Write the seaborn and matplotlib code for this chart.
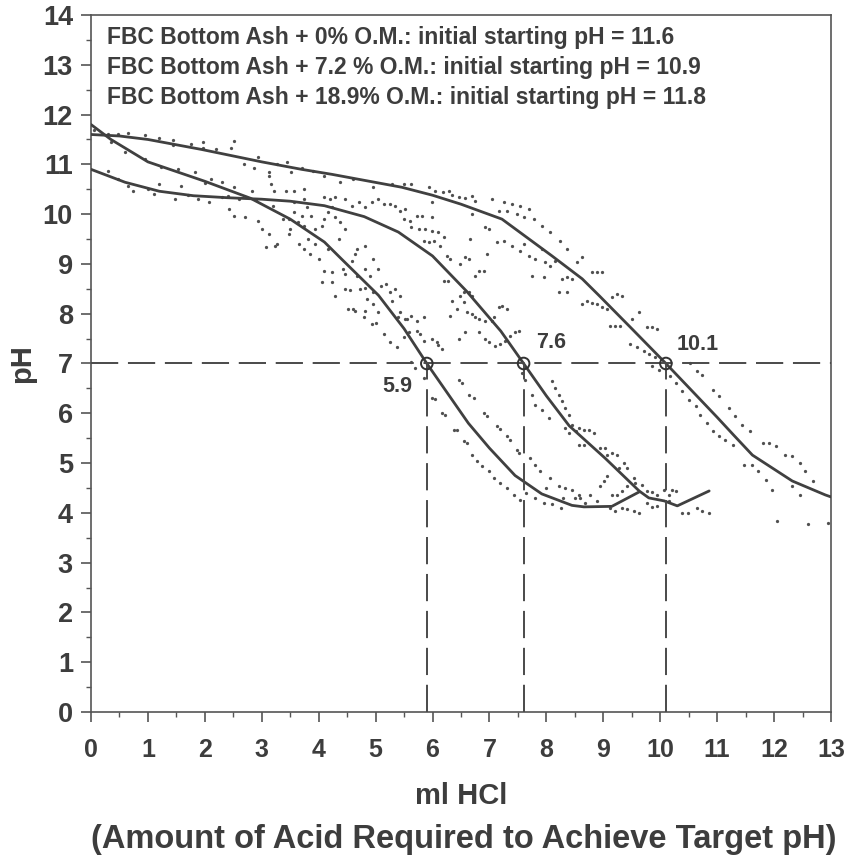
import matplotlib
matplotlib.use("Agg")
import matplotlib.pyplot as plt
from matplotlib.ticker import MultipleLocator
import numpy as np
import pandas as pd
import seaborn as sns

# ---- fitted titration curves (ml HCl, pH) ----
om0_x = [0, 0.5, 1.0, 1.94, 3.0, 3.7, 4.23, 5.46, 6.0, 6.5, 7.22, 8.1, 8.63, 8.93,
         9.5, 10.1, 10.5, 10.8, 11.0, 11.3, 11.62, 12.32, 12.9, 13.0]
om0_y = [11.6, 11.57, 11.5, 11.3, 11.05, 10.9, 10.8, 10.54, 10.38, 10.2, 9.9, 9.16, 8.7, 8.36,
         7.7, 7.0, 6.52, 6.16, 5.92, 5.55, 5.16, 4.64, 4.36, 4.32]

om72_x = [0, 0.6, 1.2, 1.8, 2.4, 3.0, 3.5, 4.1, 4.8, 5.4, 6.0, 6.6, 7.2, 7.6,
          8.0, 8.4, 9.03, 9.63, 9.8, 10.07, 10.3, 10.86]
om72_y = [10.9, 10.64, 10.46, 10.37, 10.33, 10.3, 10.26, 10.17, 9.95, 9.64, 9.16, 8.45, 7.65, 7.0,
          6.35, 5.75, 5.1, 4.44, 4.3, 4.24, 4.14, 4.44]

om189_x = [0, 0.35, 1.0, 2.0, 2.8, 3.5, 4.1, 4.4, 5.05, 5.5, 5.9, 6.63, 7.0, 7.45,
           7.92, 8.45, 8.66, 9.15, 9.63]
om189_y = [11.8, 11.5, 11.05, 10.66, 10.32, 9.9, 9.44, 9.1, 8.37, 7.7, 7.0, 5.8, 5.3, 4.75,
           4.38, 4.15, 4.12, 4.13, 4.42]

# ---- individual measurements ----
pts0_x = [0.29, 0.47, 0.65, 0.94, 1.2, 1.44, 1.44, 1.75, 1.97, 1.97, 2.2, 2.46, 2.52, 2.68, 2.87,
          2.93, 3.12, 3.26, 3.45, 3.52, 3.7, 3.9, 4.1, 4.37, 4.6, 4.96, 5.28, 5.49, 5.63, 5.93,
          6.04, 6.18, 6.29, 6.35, 6.46, 6.57, 6.69, 6.74, 7.04, 7.17, 7.25, 7.3, 7.39, 7.48, 7.54,
          7.6, 7.69, 7.78, 7.92, 8.07, 8.24, 8.36, 8.54, 8.63, 8.8, 8.89, 8.98, 9.15, 9.24, 9.33,
          9.51, 9.63, 9.77, 9.86, 9.95,
          5.99, 6.69, 6.92, 7.0, 7.13, 7.25, 7.39, 7.54, 7.6, 7.69, 7.8, 7.92, 7.98, 8.07, 8.15,
          8.27, 8.36, 8.45, 7.75, 7.96, 8.22, 8.36, 8.63, 8.71, 8.8, 8.89, 8.98, 9.07, 9.12, 9.21,
          9.3, 9.47, 9.6, 9.72, 9.8, 9.9,
          9.86, 9.98, 10.18, 10.27, 10.39, 10.51, 10.62, 10.7, 10.83, 10.92, 11.04, 11.14, 11.27,
          10.53, 10.65, 10.74, 10.92, 11.04, 11.21, 11.32, 11.44, 11.57, 11.8, 11.92, 12.03, 12.2,
          12.32, 12.45, 12.55, 12.68,
          11.48, 11.62, 11.71, 11.85, 11.96, 12.32, 12.46, 12.06, 12.59, 12.94]
pts0_y = [11.6, 11.6, 11.62, 11.58, 11.52, 11.48, 11.38, 11.4, 11.44, 11.32, 11.3, 11.32, 11.46, 11.0, 10.92,
          11.14, 10.84, 11.0, 11.05, 10.84, 10.92, 10.86, 10.76, 10.64, 10.7, 10.54, 10.6, 10.6, 10.6, 10.54,
          10.46, 10.44, 10.46, 10.38, 10.34, 10.32, 10.36, 10.26, 10.3, 10.06, 10.24, 10.06, 10.2, 10.0, 10.16,
          9.94, 10.1, 9.9, 9.76, 9.64, 9.46, 9.3, 9.04, 9.14, 8.84, 8.84, 8.84, 8.34, 8.4, 8.36,
          7.9, 8.04, 7.74, 7.74, 7.7,
          10.24, 10.0, 9.74, 9.7, 9.44, 9.46, 9.36, 9.26, 9.4, 9.16, 9.1, 9.3, 9.04, 8.96, 9.06,
          8.7, 8.74, 8.7, 8.76, 8.74, 8.44, 8.44, 8.2, 8.26, 8.22, 8.2, 8.14, 8.1, 7.76, 7.76,
          7.76, 7.4, 7.34, 7.26, 7.2, 7.14,
          6.94, 6.86, 6.74, 6.6, 6.44, 6.26, 6.14, 5.96, 5.8, 5.64, 5.54, 5.46, 5.36,
          7.0, 6.84, 6.76, 6.46, 6.34, 6.1, 5.94, 5.76, 5.64, 5.4, 5.4, 5.34, 5.16,
          5.14, 5.0, 4.84, 4.64,
          4.96, 4.96, 4.84, 4.66, 4.46, 4.54, 4.36, 3.84, 3.78, 3.8]

pts72_x = [0.29, 0.47, 0.65, 0.73, 1.0, 1.11, 1.2, 1.47, 1.58, 1.7, 1.88, 2.08, 2.3, 2.6, 2.9,
           2.41, 2.73, 2.82, 3.22, 3.43, 3.57, 3.75, 3.57, 3.75, 3.79, 4.1, 4.2, 4.28, 4.46, 4.58,
           4.7, 4.81, 4.93, 5.05, 5.14, 5.25, 5.34, 5.42, 5.51, 5.49, 5.6, 5.72, 5.81, 5.99, 5.63,
           5.76, 5.86, 5.99, 6.1, 5.85, 5.93, 6.03, 6.13, 6.21, 6.25, 6.3, 6.57, 6.64, 6.48, 6.65,
           6.81, 6.9, 6.74, 6.95, 6.21, 6.27, 6.48, 6.55, 6.64, 6.69, 6.3, 6.43, 6.55, 6.69, 6.81,
           6.92, 7.04, 7.17, 7.22, 7.3,
           6.34, 6.6, 6.74, 7.08, 6.46, 6.57, 6.81, 6.92, 6.99, 7.1, 7.18, 7.27, 7.36, 7.45, 7.52,
           7.57, 7.62, 7.75, 7.8, 7.92, 8.05, 8.1, 8.15, 8.22, 8.27, 8.33, 8.4, 8.45, 8.52, 8.33,
           8.4, 8.57, 8.66, 8.75, 8.84, 8.57, 8.66, 8.94, 9.03, 9.07, 9.15, 9.24, 9.27, 9.37, 9.42,
           9.54, 9.56, 9.68, 9.77, 9.86, 9.95, 10.07, 10.16, 10.21, 10.27, 10.16, 9.95, 9.86, 9.77,
           10.39, 10.48, 10.65, 10.74, 10.86]
pts72_y = [10.86, 10.7, 10.56, 10.46, 10.5, 10.4, 10.6, 10.3, 10.56, 10.38, 10.3, 10.24, 10.35, 10.3, 10.28,
           10.36, 10.34, 10.46, 10.46, 10.46, 10.46, 10.5, 10.24, 10.3, 10.14, 10.34, 10.3, 10.34, 10.3, 10.16,
           10.24, 10.14, 10.24, 10.3, 10.2, 10.2, 10.16, 10.06, 10.1, 9.9, 9.86, 9.96, 9.96, 9.94, 9.74,
           9.7, 9.7, 9.66, 9.64, 9.46, 9.44, 9.46, 9.36, 9.54, 9.16, 9.1, 9.14, 9.1, 9.0, 9.5,
           8.86, 8.86, 8.76, 9.2, 8.66, 8.66, 8.36, 8.44, 8.44, 8.36, 7.96, 8.1, 8.24, 8.0, 7.9,
           7.86, 7.86, 8.14, 8.16, 8.1,
           8.26, 8.04, 7.94, 7.94, 7.5, 7.64, 7.64, 7.5, 7.44, 7.36, 7.4, 7.46, 7.56, 7.64, 7.66,
           6.8, 6.66, 6.36, 6.16, 6.06, 5.9, 6.64, 6.5, 6.36, 6.24, 6.1, 5.96, 5.76, 5.64, 5.7,
           5.6, 5.7, 5.66, 5.66, 5.6, 5.36, 5.36, 5.3, 5.3, 5.16, 5.2, 5.16, 4.9, 5.0, 4.9,
           4.7, 4.6, 4.56, 4.44, 4.42, 4.36, 4.46, 4.36, 4.46, 4.44, 4.24, 4.14, 4.12, 4.2,
           4.0, 4.0, 4.1, 4.04, 4.0]

pts189_x = [0.05, 0.35, 0.6, 0.94, 1.23, 1.52, 1.82, 2.1, 2.3, 2.52, 3.12, 3.17, 2.0, 2.43, 2.52,
            2.7, 2.93, 3.0, 3.12, 3.23, 3.08, 3.26, 3.47, 3.38, 3.49, 3.47, 3.57, 3.64, 3.7, 3.75,
            3.93, 4.05, 4.1, 3.82, 3.93, 4.17, 3.75, 3.66, 3.84, 4.0, 4.1, 4.23, 4.05, 4.23, 4.28,
            3.2, 3.87, 4.17, 4.23,
            4.35, 4.46, 4.37, 4.28, 4.67, 4.63, 4.81, 4.96, 4.58, 4.46, 4.43, 4.67, 4.81, 4.9, 5.05,
            5.1, 5.18, 4.72, 4.81, 4.96, 4.46, 4.55, 5.25, 5.34, 5.42, 5.28, 4.84, 4.96, 4.52, 4.6,
            4.81, 5.05, 5.42, 5.51, 5.62, 4.93, 5.0, 5.14, 5.25, 5.37, 5.49, 5.58, 5.72, 5.78, 5.85,
            5.99, 6.07, 6.1, 6.16, 5.4, 5.55, 5.72, 5.85, 4.63, 4.79,
            5.63, 5.69, 5.85, 5.99, 6.04,
            6.16, 6.22, 6.37, 6.43, 6.55, 6.6, 6.69, 6.78, 6.87, 6.99, 7.08, 7.18, 7.3, 7.43, 7.54,
            6.46, 6.52, 6.64, 6.72, 6.9, 6.96, 7.13, 7.18, 7.3, 7.36, 7.48, 7.52, 7.71, 7.8, 7.89,
            8.07, 8.22, 8.33, 8.45, 8.59,
            8.5, 8.57, 8.68, 8.77, 8.89, 8.94, 9.01, 9.07, 9.15, 9.24, 9.12, 9.21, 9.33, 9.42, 9.54,
            9.63, 9.33, 9.42, 7.8, 7.95, 8.1, 8.25, 7.65, 8.0, 8.3]
pts189_y = [11.7, 11.45, 11.25, 11.1, 10.94, 10.9, 10.84, 10.7, 10.65, 10.55, 10.76, 10.6, 10.62, 10.1, 9.97,
            9.94, 9.86, 9.7, 9.6, 9.37, 9.34, 9.4, 9.6, 9.9, 9.7, 9.9, 10.04, 9.84, 9.96, 9.76,
            9.7, 9.76, 9.9, 9.5, 9.4, 9.3, 9.3, 9.4, 9.2, 9.1, 8.86, 8.84, 8.64, 8.64, 8.36,
            10.16, 9.96, 10.04, 10.14,
            9.5, 9.7, 9.84, 9.94, 9.3, 9.2, 9.36, 9.1, 9.06, 8.8, 8.9, 8.76, 8.9, 8.76, 8.9,
            8.56, 8.6, 8.5, 8.52, 8.44, 8.5, 8.48, 8.44, 8.5, 8.36, 8.26, 8.3, 8.2, 8.1, 8.1,
            8.06, 8.04, 8.04, 7.9, 7.96, 7.8, 7.82, 7.6, 7.44, 7.34, 7.54, 7.64, 7.66, 7.6, 7.46,
            7.5, 7.44, 7.38, 7.3, 7.94, 7.9, 7.86, 7.94, 8.06, 7.94,
            7.04, 6.9, 6.7, 6.3, 6.28,
            6.0, 5.96, 5.66, 5.66, 5.44, 5.4, 5.16, 5.04, 4.94, 4.84, 4.7, 4.6, 4.5, 4.36, 4.26,
            6.66, 6.6, 6.36, 6.3, 6.0, 5.94, 5.74, 5.68, 5.54, 5.46, 5.26, 5.2, 5.1, 4.96, 4.84,
            4.7, 4.54, 4.5, 4.46, 4.3,
            4.3, 4.36, 4.2, 4.36, 4.24, 4.54, 4.64, 4.74, 4.36, 4.36, 4.1, 4.04, 4.1, 4.08, 4.04,
            4.0, 4.44, 4.54, 4.3, 4.2, 4.18, 4.1, 4.4, 4.5, 4.3]

# acid needed to reach pH 7 for each blend
target_ph = 7
endpoints = [5.9, 7.6, 10.1]
endpoint_labels = ["5.9", "7.6", "10.1"]

legend_lines = [
    "FBC Bottom Ash + 0% O.M.: initial starting pH = 11.6",
    "FBC Bottom Ash + 7.2 % O.M.: initial starting pH = 10.9",
    "FBC Bottom Ash + 18.9% O.M.: initial starting pH = 11.8",
]

x_ticks = list(range(0, 14))
y_ticks = list(range(0, 15))

# ---- tidy frames ----
curves = pd.concat([
    pd.DataFrame({"ml": om0_x, "pH": om0_y, "blend": "0%"}),
    pd.DataFrame({"ml": om72_x, "pH": om72_y, "blend": "7.2%"}),
    pd.DataFrame({"ml": om189_x, "pH": om189_y, "blend": "18.9%"}),
], ignore_index=True)
points = pd.concat([
    pd.DataFrame({"ml": pts0_x, "pH": pts0_y, "blend": "0%"}),
    pd.DataFrame({"ml": pts72_x, "pH": pts72_y, "blend": "7.2%"}),
    pd.DataFrame({"ml": pts189_x, "pH": pts189_y, "blend": "18.9%"}),
], ignore_index=True)

sns.set_style("ticks")
plt.rcParams["font.family"] = ["Liberation Sans", "DejaVu Sans"]
plt.rcParams["font.weight"] = "bold"

ink = "#3d3d3d"

fig = plt.figure(figsize=(8.45, 8.63), dpi=100)
ax = fig.add_axes([0.1077, 0.175, 0.8757, 0.8076])

sns.scatterplot(data=points, x="ml", y="pH", color="#505050", s=5.5, linewidth=0,
                legend=False, ax=ax, zorder=2)
grey = {"0%": "#404040", "7.2%": "#404040", "18.9%": "#404040"}
sns.lineplot(data=curves, x="ml", y="pH", hue="blend", palette=grey, sort=False,
             estimator=None, linewidth=2.0, legend=False, ax=ax, zorder=3)

dash = dict(color="#4a4a4a", linewidth=1.4, dashes=(14, 5), zorder=4)
ax.axhline(target_ph, **dash)
for e in endpoints:
    ax.plot([e, e], [0, target_ph], **dash)
ax.scatter(endpoints, [target_ph] * 3, s=70, facecolors="none", edgecolors="#333333",
           linewidths=1.4, zorder=5)

offsets = [(-30, -23), (28, 21), (32, 19)]
for e, lab, off in zip(endpoints, endpoint_labels, offsets):
    ax.annotate(lab, xy=(e, target_ph), xytext=off, textcoords="offset pixels",
                ha="center", va="center", fontsize=15.5, fontweight="bold", color=ink)

for i, line in enumerate(legend_lines):
    ax.text(0.022, 0.968 - i * 0.043, line, transform=ax.transAxes, ha="left", va="center",
            fontsize=16.5, fontweight="bold", color=ink)

ax.set_xlim(0, 13)
ax.set_ylim(0, 14)
ax.set_xticks(x_ticks)
ax.set_yticks(y_ticks)
ax.xaxis.set_minor_locator(MultipleLocator(0.5))
ax.yaxis.set_minor_locator(MultipleLocator(0.5))
ax.tick_params(axis="both", which="major", direction="out", length=7, width=1.2, color="#555555")
ax.tick_params(axis="both", which="minor", direction="out", length=3.5, width=1.0, color="#555555")
ax.tick_params(axis="x", pad=12)
ax.tick_params(axis="y", pad=6)
for lab in ax.get_yticklabels():
    lab.set_fontsize(19.5)
    lab.set_fontweight("bold")
    lab.set_color(ink)
for lab in ax.get_xticklabels():
    lab.set_fontsize(18)
    lab.set_fontweight("bold")
    lab.set_color(ink)

for side in ["left", "right", "top", "bottom"]:
    ax.spines[side].set_visible(True)
    ax.spines[side].set_color("#555555")
    ax.spines[side].set_linewidth(1.2)

ax.set_xlabel("ml HCl", fontsize=21, fontweight="bold", color=ink, labelpad=14)
ax.set_ylabel("pH", fontsize=21, fontweight="bold", color=ink, labelpad=5)

fig.text(0.549, 0.027, "(Amount of Acid Required to Achieve Target pH)", ha="center",
         va="center", fontsize=23.5, fontweight="bold", color=ink)

fig.savefig("out.png", dpi=100, facecolor="white")
